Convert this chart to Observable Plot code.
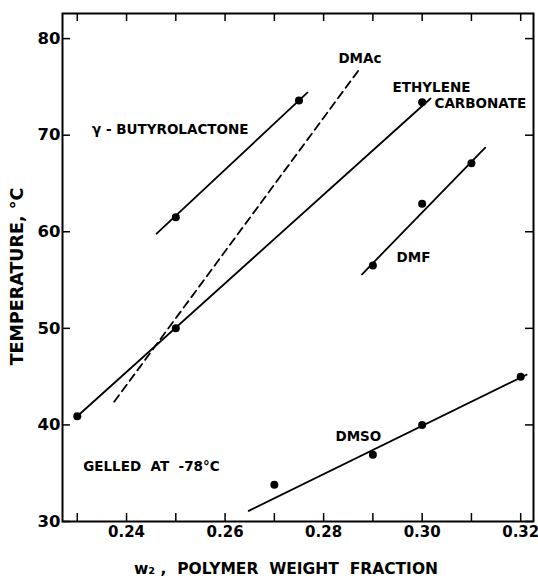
<!DOCTYPE html>
<html><head><meta charset="utf-8">
<script src="https://cdn.jsdelivr.net/npm/d3@7"></script>
<script src="https://cdn.jsdelivr.net/npm/@observablehq/plot@0.6"></script>
<style>body{margin:0;background:#fff} svg{display:block} svg text{white-space:pre}</style>
</head><body><div id="chart"></div>
<script>
// ticks
const xTickMarks = [0.23, 0.24, 0.25, 0.26, 0.27, 0.28, 0.29, 0.30, 0.31, 0.32];
const xTickLabels = [0.24, 0.26, 0.28, 0.30, 0.32];
const yTicks = [30, 40, 50, 60, 70, 80];

// measured points (w = polymer weight fraction, t = temperature °C)
const butyroPoints = [{w: 0.25, t: 61.5}, {w: 0.275, t: 73.6}];
const ecPoints = [{w: 0.23, t: 40.9}, {w: 0.25, t: 50.0}, {w: 0.30, t: 73.4}];
const dmfPoints = [{w: 0.29, t: 56.5}, {w: 0.30, t: 62.9}, {w: 0.31, t: 67.1}];
const dmsoPoints = [{w: 0.27, t: 33.8}, {w: 0.29, t: 36.9}, {w: 0.30, t: 40.0}, {w: 0.32, t: 45.0}];

// fitted lines (end points)
const butyroFit = [{w: 0.2461, t: 59.8}, {w: 0.2767, t: 74.4}];
const ecFit = [{w: 0.23, t: 40.9}, {w: 0.3017, t: 73.8}];
const dmacFit = [{w: 0.2375, t: 42.4}, {w: 0.2875, t: 77.0}];
const dmfFit = [{w: 0.2878, t: 55.6}, {w: 0.3128, t: 68.7}];
const dmsoFit = [{w: 0.2648, t: 31.1}, {w: 0.3212, t: 45.2}];

// annotations
const labels = [
  {w: 0.2330, t: 70.6, text: "γ - BUTYROLACTONE"},
  {w: 0.2830, t: 77.9, text: "DMAc"},
  {w: 0.2940, t: 74.9, text: "ETHYLENE"},
  {w: 0.3025, t: 73.3, text: "CARBONATE"},
  {w: 0.2948, t: 57.3, text: "DMF"},
  {w: 0.2824, t: 38.8, text: "DMSO"},
  {w: 0.2312, t: 35.7, text: "GELLED  AT  -78°C"}
];
const xTitle = "w₂ ,  POLYMER  WEIGHT  FRACTION";
const yTitle = "TEMPERATURE, °C";

const allPoints = [...butyroPoints, ...ecPoints, ...dmfPoints, ...dmsoPoints];
const font = "DejaVu Sans";
const tickLen = 8;
const frameH = 581 - 13 - 60;
const frameW = 538 - 62 - 5;

const chart = Plot.plot({
  width: 538, height: 581,
  marginLeft: 62, marginRight: 5, marginTop: 13, marginBottom: 60,
  style: {fontFamily: font, fontWeight: "bold", fontSize: "14px", background: "white", color: "black"},
  x: {domain: [0.227, 0.3226]},
  y: {domain: [30, 82.6]},
  marks: [
    // inward tick marks on all four sides
    Plot.tickX(xTickMarks, {x: d => d, insetTop: frameH - tickLen, stroke: "black", strokeWidth: 1.5}),
    Plot.tickX(xTickMarks, {x: d => d, insetBottom: frameH - tickLen, stroke: "black", strokeWidth: 1.5}),
    Plot.tickY(yTicks, {y: d => d, insetRight: frameW - tickLen, stroke: "black", strokeWidth: 1.5}),
    Plot.tickY(yTicks, {y: d => d, insetLeft: frameW - tickLen, stroke: "black", strokeWidth: 1.5}),
    // tick labels
    Plot.axisX(xTickLabels, {anchor: "bottom", tickSize: 0, tickPadding: 5, tickFormat: d3.format(".2f"), label: null, fontSize: 15, fontWeight: "bold"}),
    Plot.axisY(yTicks, {anchor: "left", tickSize: 0, tickPadding: 2, label: null, fontSize: 16.5, fontWeight: "bold"}),
    Plot.frame({stroke: "black", strokeWidth: 2}),
    Plot.line(butyroFit, {x: "w", y: "t", stroke: "black", strokeWidth: 1.8}),
    Plot.line(ecFit, {x: "w", y: "t", stroke: "black", strokeWidth: 1.8}),
    Plot.line(dmacFit, {x: "w", y: "t", stroke: "black", strokeWidth: 1.8, strokeDasharray: "8,5"}),
    Plot.line(dmfFit, {x: "w", y: "t", stroke: "black", strokeWidth: 1.8}),
    Plot.line(dmsoFit, {x: "w", y: "t", stroke: "black", strokeWidth: 1.8}),
    Plot.dot(allPoints, {x: "w", y: "t", r: 4, fill: "black"}),
    Plot.text(labels, {x: "w", y: "t", text: "text", textAnchor: "start", fontSize: 13.5, fontWeight: "bold", fill: "black"}),
    Plot.text([xTitle], {text: d => d, frameAnchor: "bottom", textAnchor: "middle", dx: -12, dy: 52, fontSize: 15.5, fontWeight: "bold", fill: "black"}),
    Plot.text([yTitle], {text: d => d, frameAnchor: "left", textAnchor: "middle", rotate: -90, dx: -45, dy: 9, fontSize: 17.5, fontWeight: "bold", fill: "black"})
  ]
});
document.getElementById("chart").appendChild(chart);
</script>
</body></html>
